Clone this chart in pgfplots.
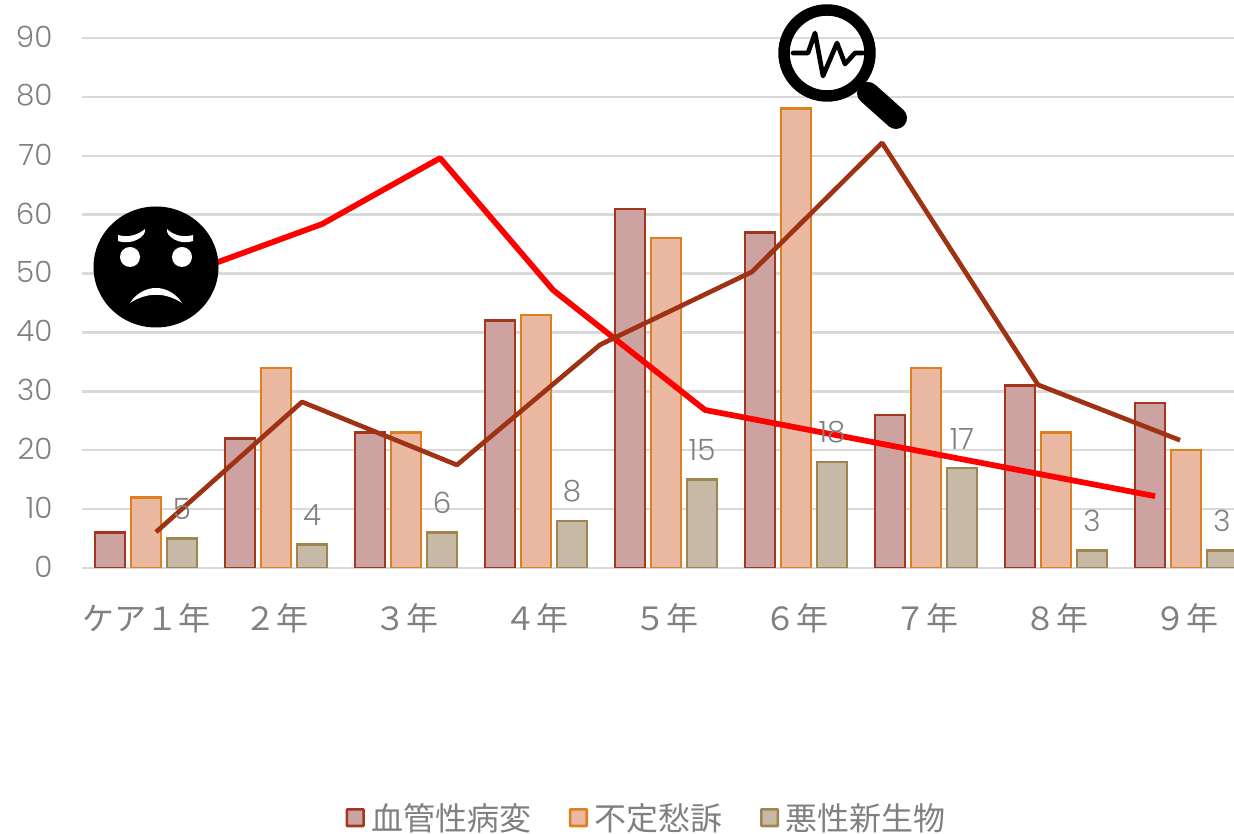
\documentclass[border=0pt]{standalone}
\usepackage{fontspec}
\setmainfont{Poppins Light}
\newfontfamily\cjk{Noto Sans CJK JP}
\usepackage{pgfplots}
\pgfplotsset{compat=1.18}
\definecolor{grid}{HTML}{D9D9D9}
\definecolor{txt}{HTML}{808080}
\definecolor{fa}{HTML}{CCA3A0}
\definecolor{da}{HTML}{A5361E}
\definecolor{fb}{HTML}{EBB9A2}
\definecolor{db}{HTML}{DD8020}
\definecolor{fc}{HTML}{C6B9A6}
\definecolor{dc}{HTML}{A08550}
\definecolor{brn}{HTML}{9E3212}
\pgfplotsset{
 lsq/.style={legend image code/.code={\draw[#1,line width=1.9pt,rounded corners=0.5pt] (0pt,-6pt) rectangle (12.5pt,6.5pt);}}
}
\begin{document}
\begin{tikzpicture}
\useasboundingbox (0,0) rectangle (925.5pt,625.5pt);
\begin{axis}[
 at={(61.5pt,199.5pt)},anchor=south west,
 scale only axis,width=864pt,height=397.5pt,
 xmin=-0.4923,xmax=8.369,ymin=0,ymax=90,
 axis line style={draw=none},
 major tick length=0pt,
 xtick={0,...,8},
 xticklabels={ケア１年,２年,３年,４年,５年,６年,７年,８年,９年},
 xticklabel style={font=\cjk\fontsize{24}{24}\selectfont,text=txt,anchor=center,yshift=-38pt,inner sep=0pt},
 ytick={0,10,...,90},
 yticklabel style={font=\fontsize{22}{22}\selectfont,text=txt,anchor=east,xshift=-22pt,yshift=1pt,inner sep=0pt,/pgf/number format/assume math mode=true},
 ymajorgrids,
 grid style={draw=grid,line width=1.8pt},
 legend style={at={(423.8pt,-187.5pt)},anchor=center,draw=none,fill=none,legend columns=3,
   font=\cjk\fontsize{24}{24}\selectfont,text=txt,
   /tikz/every even column/.append style={column sep=26pt},
   /tikz/every odd column/.append style={column sep=3pt},inner sep=0pt},
]
\addplot[ybar,bar width=22.5pt,bar shift=-27pt,fill=fa,draw=da,line width=1.9pt,lsq={draw=da,fill=fa}] coordinates {(0,6)(1,22)(2,23)(3,42)(4,61)(5,57)(6,26)(7,31)(8,28)};
\addlegendentry{血管性病変}
\addplot[ybar,bar width=22.5pt,bar shift=0pt,fill=fb,draw=db,line width=1.9pt,lsq={draw=db,fill=fb}] coordinates {(0,12)(1,34)(2,23)(3,43)(4,56)(5,78)(6,34)(7,23)(8,20)};
\addlegendentry{不定愁訴}
\addplot[ybar,bar width=22.5pt,bar shift=27pt,fill=fc,draw=dc,line width=1.9pt,lsq={draw=dc,fill=fc},
 nodes near coords,
 every node near coord/.append style={font=\fontsize{22}{22}\selectfont,text=txt,xshift=27pt,yshift=11pt,inner sep=2pt,/pgf/number format/assume math mode=true}] coordinates {(0,5)(1,4)(2,6)(3,8)(4,15)(5,18)(6,17)(7,3)(8,3)};
\addlegendentry{悪性新生物}
\addplot[sharp plot,forget plot,draw=red,line width=4.3pt,line join=bevel] coordinates {(0.492,51.45)(1.354,58.4)(2.262,69.6)(3.131,47.2)(4.3,26.83)(7.762,12.2)};
\addplot[sharp plot,forget plot,draw=brn,line width=3.5pt,line join=bevel] coordinates {(0.077,6.1)(1.2,28.2)(2.392,17.5)(3.492,37.9)(4.662,50.3)(5.662,72.2)(6.862,31.1)(7.954,21.7)};
\end{axis}
\begin{scope}[x=0.75pt,y=-0.75pt,shift={(0,625.5pt)}]
 % worried face
 \fill[black] (156,267) ellipse (62.5 and 60.5);
 \fill[white] (130,257) circle (10);
 \fill[white] (182,257) circle (10);
 \fill[white] (130,303) .. controls (143,283) and (169,283) .. (182,303) .. controls (165,292) and (147,292) .. (130,303);
 \fill[white] (118,235) .. controls (128,238) and (138,235) .. (145,229) .. controls (147,236) and (132,246) .. (118,241) -- cycle;
 \fill[white] (193,235) .. controls (183,238) and (173,235) .. (167,229) .. controls (165,236) and (180,246) .. (193,241) -- cycle;
 % magnifier
 \draw[black,line width=8.6pt] (827,53) circle (43);
 \draw[black,line width=5pt] (857,83) -- (870,96);
 \draw[black,line width=16.5pt,line cap=round] (868,93) -- (896,118);
 \draw[black,line width=3.5pt,line cap=round,line join=round] (793,53) -- (808,53) -- (815,33) -- (823,76) -- (837,43) -- (845,64) -- (855,53) -- (863,53);
\end{scope}
\end{tikzpicture}
\end{document}
